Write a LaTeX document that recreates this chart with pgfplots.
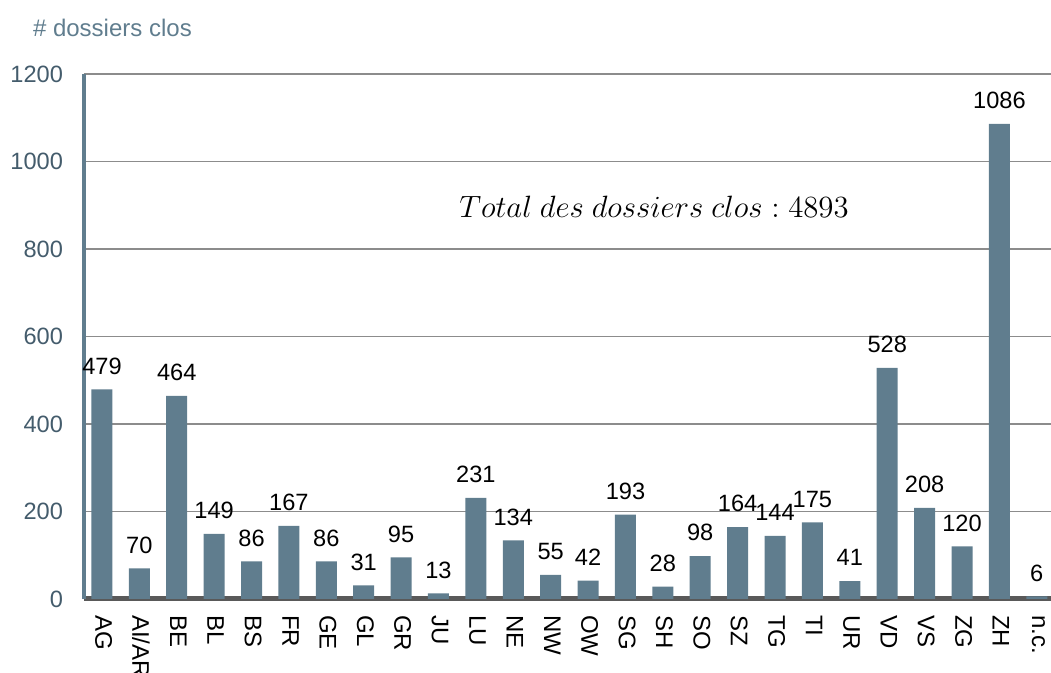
\documentclass[border=0pt]{standalone}
\usepackage{pgfplots}
\pgfplotsset{compat=1.18}
\usepackage{fontspec}
\setmainfont{Liberation Sans}
\definecolor{barc}{RGB}{96,125,142}
\definecolor{tickc}{RGB}{68,92,108}
\definecolor{basec}{RGB}{89,89,89}
\definecolor{gridc}{RGB}{140,140,140}
\begin{document}
\begin{tikzpicture}
\begin{axis}[
  at={(0,0)}, anchor=south west,
  scale only axis, width=483.5pt, height=262.5pt,
  xmin=-0.48, xmax=25.38, ymin=0, ymax=1200,
  ybar, bar width=10.5pt,
  ytick={0,200,...,1200},
  xtick={0,...,25},
  xticklabels={AG,AI/AR,BE,BL,BS,FR,GE,GL,GR,JU,LU,NE,NW,OW,SG,SH,SO,SZ,TG,TI,UR,VD,VS,ZG,ZH,n.c.},
  major tick length=0pt,
  axis x line*=bottom, axis y line*=left,
  x axis line style={draw=basec, line width=2.5pt, -},
  y axis line style={draw=barc, line width=2pt, -},
  ymajorgrids, grid style={draw=gridc, line width=0.7pt},
  /pgf/number format/assume math mode=true,
  /pgf/number format/1000 sep={},
  yticklabel style={text=tickc, font=\fontsize{11.8}{13}\selectfont, xshift=-7pt},
  xticklabel style={text=black, font=\fontsize{12}{13}\selectfont, rotate=-90, anchor=west, xshift=4.5pt, yshift=0.8pt},
  nodes near coords,
  nodes near coords style={text=black, font=\fontsize{11.8}{13}\selectfont, yshift=4pt},
]
\addplot[fill=barc, draw=none] table[x=x, y=y] {
x y
0 479
1 70
2 464
3 149
4 86
5 167
6 86
7 31
8 95
9 13
10 231
11 134
12 55
13 42
14 193
15 28
16 98
17 164
18 144
19 175
20 41
21 528
22 208
23 120
24 1086
25 6
};
\end{axis}
\node[font=\fontsize{13.5}{15}\selectfont, scale=1.07] at (285pt,196pt) {$Total\ des\ dossiers\ clos : 4893$};
\node[anchor=west, text=barc, font=\fontsize{12}{13}\selectfont] at (-29pt,285.5pt) {\# dossiers clos};
\pgfresetboundingbox
\path[use as bounding box] (-42pt,-37pt) rectangle (483.5pt,299.5pt);
\end{tikzpicture}
\end{document}
